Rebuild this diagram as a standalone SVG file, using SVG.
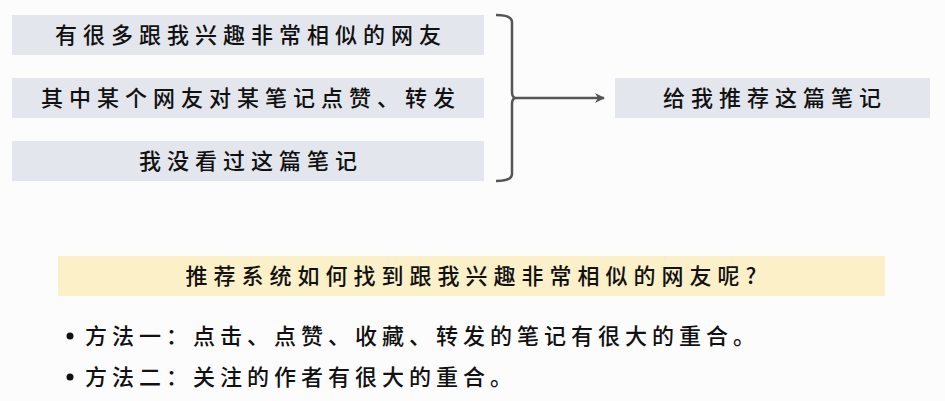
<svg xmlns="http://www.w3.org/2000/svg" width="945" height="401" viewBox="0 0 945 401">
<style>
.b{fill:#e3e6ec}
text{font-family:"Noto Sans CJK SC","Noto Sans",sans-serif;font-size:22px;font-weight:500;fill:#111;text-anchor:middle;letter-spacing:6px}
.l{text-anchor:start;letter-spacing:5px}
</style>
<defs><marker id="a" markerWidth="10" markerHeight="10" refX="9" refY="5" orient="auto" markerUnits="userSpaceOnUse"><path d="M0,0 L10,5 L0,10 L3,5 Z" fill="#555"/></marker></defs>
<rect width="945" height="401" fill="#fdfcfd"/>
<g id="n1"><rect class="b" x="12" y="15" width="472" height="40"/><text x="251" y="43">有很多跟我兴趣非常相似的网友</text></g>
<g id="n2"><rect class="b" x="12" y="78" width="472" height="40"/><text x="251" y="106">其中某个网友对某笔记点赞、转发</text></g>
<g id="n3"><rect class="b" x="12" y="141" width="472" height="40"/><text x="251" y="169">我没看过这篇笔记</text></g>
<g id="n4"><rect class="b" x="615" y="78" width="315" height="40"/><text x="775" y="106">给我推荐这篇笔记</text></g>
<g id="connectors" fill="none" stroke="#555" stroke-width="2.5">
<path d="M496,15 Q512,15 512,22 L512,92 Q512,98 516,98 Q512,98 512,104 L512,174 Q512,181 496,181"/>
<path d="M516,98 L604,98" marker-end="url(#a)"/>
</g>
<g id="q"><rect x="58" y="256" width="827" height="40" fill="#fbf0c8"/><text x="474" y="284">推荐系统如何找到跟我兴趣非常相似的网友呢?</text></g>
<circle cx="70" cy="336" r="3.5" fill="#111"/>
<circle cx="70" cy="377" r="3.5" fill="#111"/>
<text class="l" x="85" y="344">方法一：点击、点赞、收藏、转发的笔记有很大的重合。</text>
<text class="l" x="85" y="385">方法二：关注的作者有很大的重合。</text>
</svg>
